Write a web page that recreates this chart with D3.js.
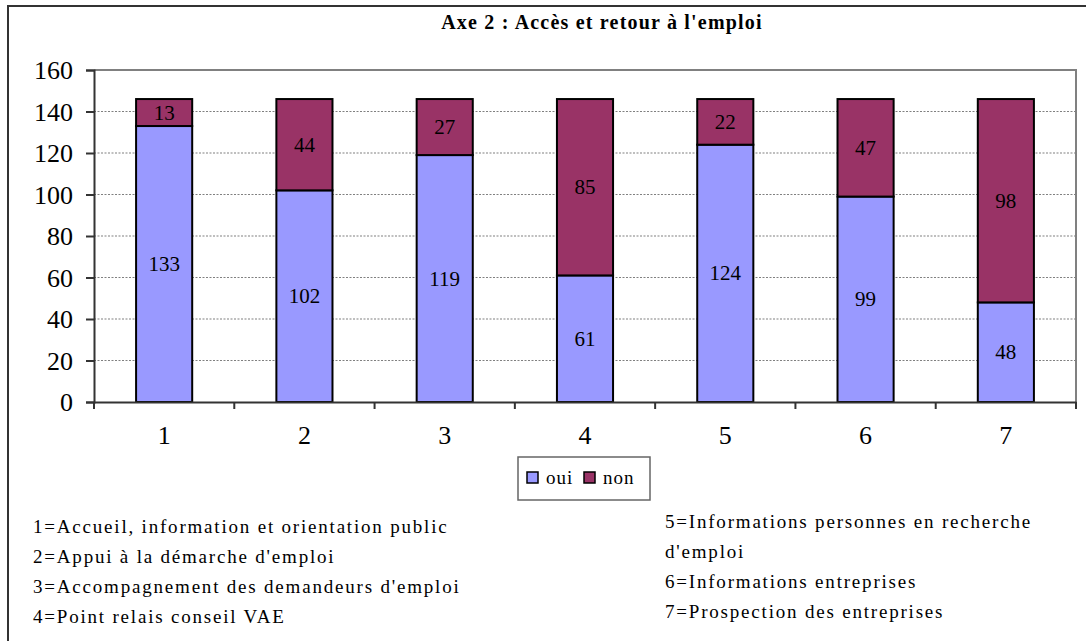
<!DOCTYPE html>
<html><head><meta charset="utf-8">
<script src="https://cdn.jsdelivr.net/npm/d3@7"></script>
<style>body{margin:0;background:#fff}svg{display:block}</style>
</head><body>
<script>
const categories = ["1","2","3","4","5","6","7"];
const oui = [133,102,119,61,124,99,48];
const non = [13,44,27,85,22,47,98];
const seriesNames = ["oui","non"];
const colors = ["#9999FF","#993366"];
const yTicks = [0,20,40,60,80,100,120,140,160];
const title = "Axe 2 : Accès et retour à l'emploi";
const notesLeft = ["1=Accueil, information et orientation public","2=Appui à la démarche d'emploi","3=Accompagnement des demandeurs d'emploi","4=Point relais conseil VAE"];
const notesRight = ["5=Informations personnes en recherche","d'emploi","6=Informations entreprises","7=Prospection des entreprises"];

const FF='"Liberation Serif", "Times New Roman", serif';
const W=1086,H=641;
const svg=d3.select("body").append("svg").attr("width",W).attr("height",H);
svg.append("path").attr("d","M8,641V6H1086").attr("fill","none").attr("stroke","#333").attr("stroke-width",2);

const L=94,R=1076,T=70,B=402;
const x=d3.scaleBand().domain(categories).range([L,R]).paddingInner(0.6).paddingOuter(0.3);
const xb=d3.scaleBand().domain(categories).range([L,R]);
const y=d3.scaleLinear().domain([0,160]).range([B,T]);

svg.append("g").selectAll("line").data(yTicks.filter(v=>v>0&&v<160)).join("line")
 .attr("x1",L).attr("x2",R).attr("y1",d=>y(d)).attr("y2",d=>y(d))
 .attr("stroke","#808080").attr("stroke-width",1.2).attr("stroke-dasharray","2,1.5");
svg.append("path").attr("d",`M${L},${y(160)}H${R}V${B}`).attr("fill","none").attr("stroke","#808080").attr("stroke-width",2);

const data=categories.map((c,i)=>({c,oui:oui[i],non:non[i]}));
const stack=d3.stack().keys(seriesNames)(data);
const g=svg.append("g");
stack.forEach((s,si)=>{
  g.selectAll(null).data(s).join("rect")
   .attr("x",d=>x(d.data.c)).attr("width",x.bandwidth())
   .attr("y",d=>y(d[1])).attr("height",d=>y(d[0])-y(d[1]))
   .attr("fill",colors[si]).attr("stroke","#000").attr("stroke-width",2);
  g.selectAll(null).data(s).join("text")
   .attr("x",d=>x(d.data.c)+x.bandwidth()/2).attr("y",d=>(y(d[0])+y(d[1]))/2+7)
   .attr("text-anchor","middle").style("font-family",FF).style("font-size","21px").text(d=>d[1]-d[0]);
});

const ya=svg.append("g").attr("transform",`translate(${L},0)`).call(d3.axisLeft(y).tickValues(yTicks).tickSize(8).tickPadding(13));
ya.select(".domain").attr("stroke","#333").attr("stroke-width",2);
ya.selectAll(".tick line").attr("stroke","#333").attr("stroke-width",2);
ya.selectAll(".tick text").style("font-family",FF).style("font-size","26px").attr("fill","#000").attr("dy","0.34em");

const xa=svg.append("g").attr("transform",`translate(0,${B})`).call(d3.axisBottom(xb).tickSize(0).tickPadding(24));
xa.select(".domain").attr("stroke","#333").attr("stroke-width",2);
xa.selectAll(".tick text").style("font-family",FF).style("font-size","26px").attr("fill","#000");
svg.append("g").selectAll("line").data(categories.concat(["end"])).join("line")
 .attr("x1",(d,i)=>i<categories.length?xb(d):R).attr("x2",(d,i)=>i<categories.length?xb(d):R)
 .attr("y1",B).attr("y2",B+7).attr("stroke","#333").attr("stroke-width",2);

svg.append("text").attr("x",602).attr("y",29).attr("text-anchor","middle").style("font-family",FF).style("font-weight","bold").style("font-size","20px").style("letter-spacing","1.2px").text(title);

svg.append("rect").attr("x",518).attr("y",457).attr("width",132).attr("height",43).attr("fill","#fff").attr("stroke","#666").attr("stroke-width",1.5);
const lg=svg.append("g").selectAll("g").data(seriesNames).join("g").attr("transform",(d,i)=>`translate(${527+i*57},472)`);
lg.append("rect").attr("width",11).attr("height",11).attr("fill",(d,i)=>colors[i]).attr("stroke","#000").attr("stroke-width",1.5);
lg.append("text").attr("x",19).attr("y",12).style("font-family",FF).style("font-size","19px").style("letter-spacing","1px").text(d=>d);

svg.append("g").selectAll("text").data(notesLeft).join("text").attr("x",33).attr("y",(d,i)=>533+i*30)
 .style("font-family",FF).style("font-size","19px").style("letter-spacing","1.8px").text(d=>d);
svg.append("g").selectAll("text").data(notesRight).join("text").attr("x",665).attr("y",(d,i)=>528+i*30)
 .style("font-family",FF).style("font-size","19px").style("letter-spacing","1.8px").text(d=>d);
</script>
</body></html>
